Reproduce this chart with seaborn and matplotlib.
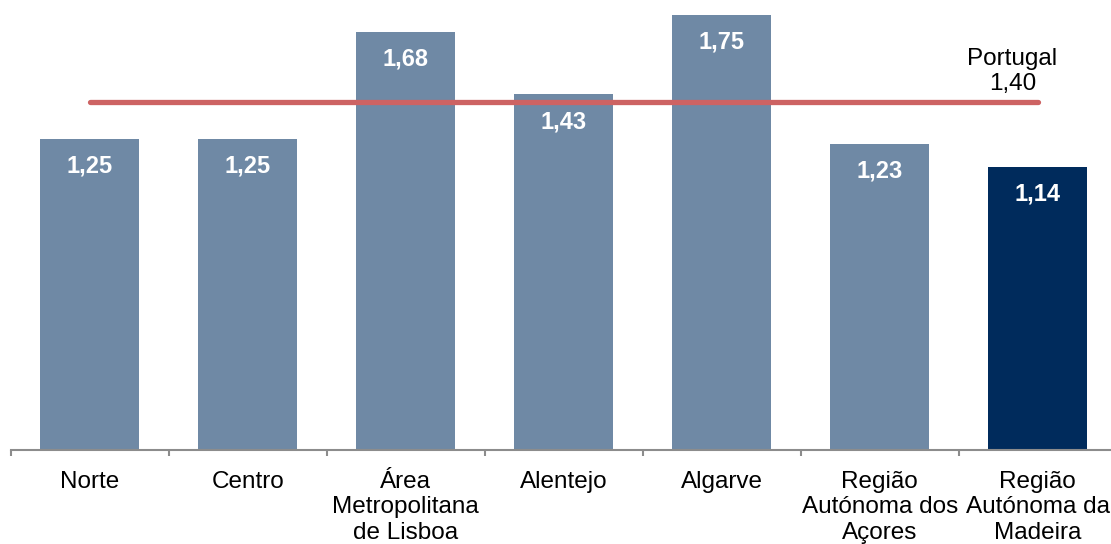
import numpy as np
import pandas as pd
import matplotlib
matplotlib.use("Agg")
import matplotlib.pyplot as plt
import seaborn as sns

# data
regions = ["Norte", "Centro", "Área\nMetropolitana\nde Lisboa", "Alentejo",
           "Algarve", "Região\nAutónoma dos\nAçores", "Região\nAutónoma da\nMadeira"]
values = [1.25, 1.25, 1.68, 1.43, 1.75, 1.23, 1.14]
portugal = 1.40
colors = ["#6F89A5"] * 6 + ["#002B5C"]

sns.set_style("white")
plt.rcParams["font.family"] = ["Liberation Sans", "DejaVu Sans"]

df = pd.DataFrame({"region": regions, "value": values})

fig = plt.figure(figsize=(11.11, 5.44), dpi=100)
ax = fig.add_axes([10.7 / 1111, 94 / 544, 1106 / 1111, 450 / 544])

sns.barplot(data=df, x="region", y="value", hue="region", palette=colors,
            legend=False, width=0.627, saturation=1, linewidth=0, ax=ax)

# value labels inside bars
for i, v in enumerate(values):
    ax.annotate(f"{v:.2f}".replace(".", ","), (i, v), xytext=(0, -19.5),
                textcoords="offset points", ha="center", va="center",
                color="white", fontsize=17, fontweight="bold")

# Portugal reference line
ax.plot([0, len(values) - 1], [portugal, portugal], color="#CD6363",
        lw=3.8, solid_capstyle="round", zorder=3)
ax.annotate("Portugal\n" + f"{portugal:.2f}".replace(".", ","), (5.84, portugal),
            xytext=(0, 5), textcoords="offset points", ha="center", va="bottom",
            fontsize=17.5, linespacing=1.2, color="black")

ax.set_xlim(-0.5, len(values) - 0.5)
ax.set_ylim(0, 1.81)
ax.set_xlabel("")
ax.set_ylabel("")
ax.set_yticks([])
for s in ["top", "right", "left"]:
    ax.spines[s].set_visible(False)
ax.spines["bottom"].set_color("#8C8C8C")
ax.spines["bottom"].set_linewidth(1.5)

ax.set_xticks(np.arange(len(values)))
ax.set_xticklabels(regions, fontsize=17.5, linespacing=1.2, color="black")
ax.tick_params(axis="x", which="major", length=0, pad=15)
ax.set_xticks(np.arange(len(values) + 1) - 0.5, minor=True)
ax.tick_params(axis="x", which="minor", length=4.5, width=1.5,
               color="#8C8C8C", bottom=True)

fig.savefig("out.png", dpi=100)
